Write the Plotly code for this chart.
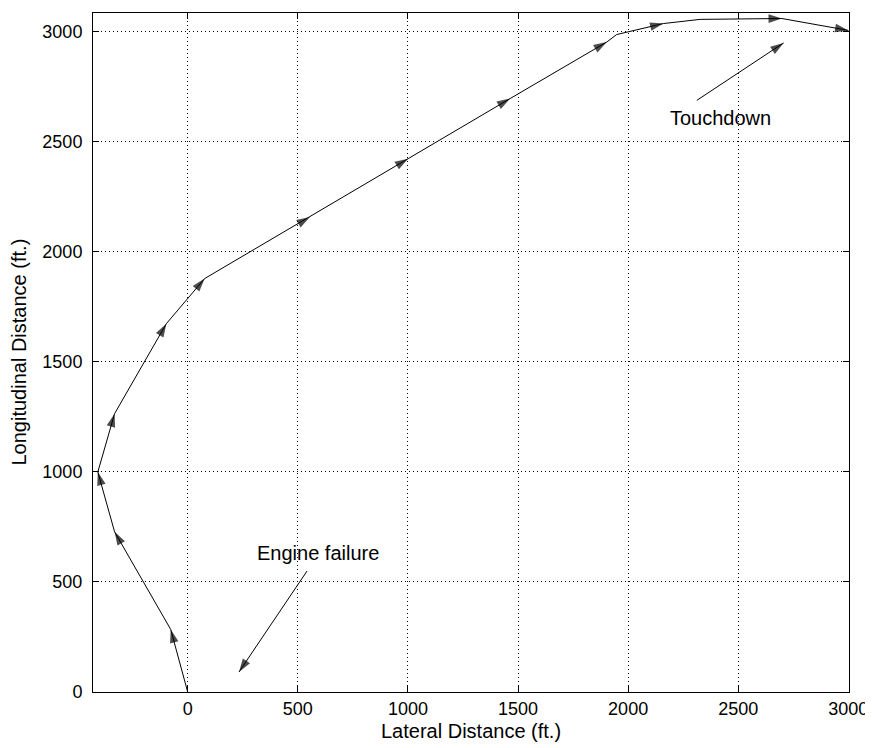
import plotly.graph_objects as go

# Flight path (ft.)
lateral = [0, -77, -332, -408, -332, -97, 77, 555, 1001, 1464, 1903, 1948, 2160, 2327, 2698, 3000]
longitudinal = [0, 284, 728, 1000, 1265, 1674, 1879, 2159, 2424, 2697, 2954, 2988, 3038, 3057, 3061, 3007]
has_arrow = [0, 1, 1, 1, 1, 1, 1, 1, 1, 1, 1, 0, 1, 0, 1, 1]

x_ticks = [0, 500, 1000, 1500, 2000, 2500, 3000]
y_ticks = [0, 500, 1000, 1500, 2000, 2500, 3000]

# Annotations: text, text position, arrow tail -> tip
engine_label = "Engine failure"
engine_text_xy = [591, 633]
engine_arrow_x = [542, 233]
engine_arrow_y = [550, 91]

touch_label = "Touchdown"
touch_text_xy = [2418, 2607]
touch_arrow_x = [2312, 2706]
touch_arrow_y = [2689, 2950]

x_title = "Lateral Distance (ft.)"
y_title = "Longitudinal Distance (ft.)"

FONT = "Liberation Sans, Arial, sans-serif"
ARROW_SIZE = 14

fig = go.Figure()

fig.add_trace(go.Scatter(
    x=lateral, y=longitudinal, mode="lines+markers",
    line=dict(color="black", width=1, backoff=0),
    marker=dict(symbol="arrow", angleref="previous",
                size=[ARROW_SIZE if a else 0 for a in has_arrow],
                color="black", line=dict(width=0)),
    showlegend=False, hoverinfo="skip", cliponaxis=False))

for ax_, ay_ in [(engine_arrow_x, engine_arrow_y), (touch_arrow_x, touch_arrow_y)]:
    fig.add_trace(go.Scatter(
        x=ax_, y=ay_, mode="lines+markers",
        line=dict(color="black", width=1, backoff=0),
        marker=dict(symbol="arrow", angleref="previous", size=[0, ARROW_SIZE],
                    color="black", line=dict(width=0)),
        showlegend=False, hoverinfo="skip"))

for label, xy in [(engine_label, engine_text_xy), (touch_label, touch_text_xy)]:
    fig.add_annotation(x=xy[0], y=xy[1], text=label, showarrow=False,
                       font=dict(family=FONT, size=20, color="black"),
                       xanchor="center", yanchor="middle")

# axis titles placed in pixels relative to plot frame
fig.add_annotation(x=0.5, y=0, xref="paper", yref="paper", text=x_title,
                   showarrow=False, xanchor="center", yanchor="middle", yshift=-39,
                   font=dict(family=FONT, size=20, color="black"))
fig.add_annotation(x=0, y=0.5, xref="paper", yref="paper", text=y_title,
                   showarrow=False, xanchor="center", yanchor="middle", xshift=-75,
                   textangle=-90, font=dict(family=FONT, size=20, color="black"))

axis_common = dict(
    showline=True, linecolor="black", linewidth=1, mirror="ticks",
    ticks="inside", ticklen=6, tickcolor="black", tickwidth=1,
    showgrid=True, gridcolor="black", gridwidth=1, griddash="1px,3px",
    zeroline=False, tickfont=dict(family=FONT, size=18, color="black"),
    automargin=False, ticklabeloverflow="allow",
)

fig.update_xaxes(range=[-430, 3003], tickvals=x_ticks,
                 ticktext=[str(v) for v in x_ticks],
                 ticklabelstandoff=0, **axis_common)
fig.update_yaxes(range=[0, 3086], tickvals=y_ticks,
                 ticktext=[str(v) for v in y_ticks],
                 ticklabelstandoff=6, **axis_common)

# page body has an 8px margin: size the figure so the frame lands where the reference has it
fig.update_layout(
    width=865, height=740,
    margin=dict(l=85, r=24, t=5, b=56),
    plot_bgcolor="white", paper_bgcolor="white",
    font=dict(family=FONT, color="black"),
)

fig.write_html("out.html")
